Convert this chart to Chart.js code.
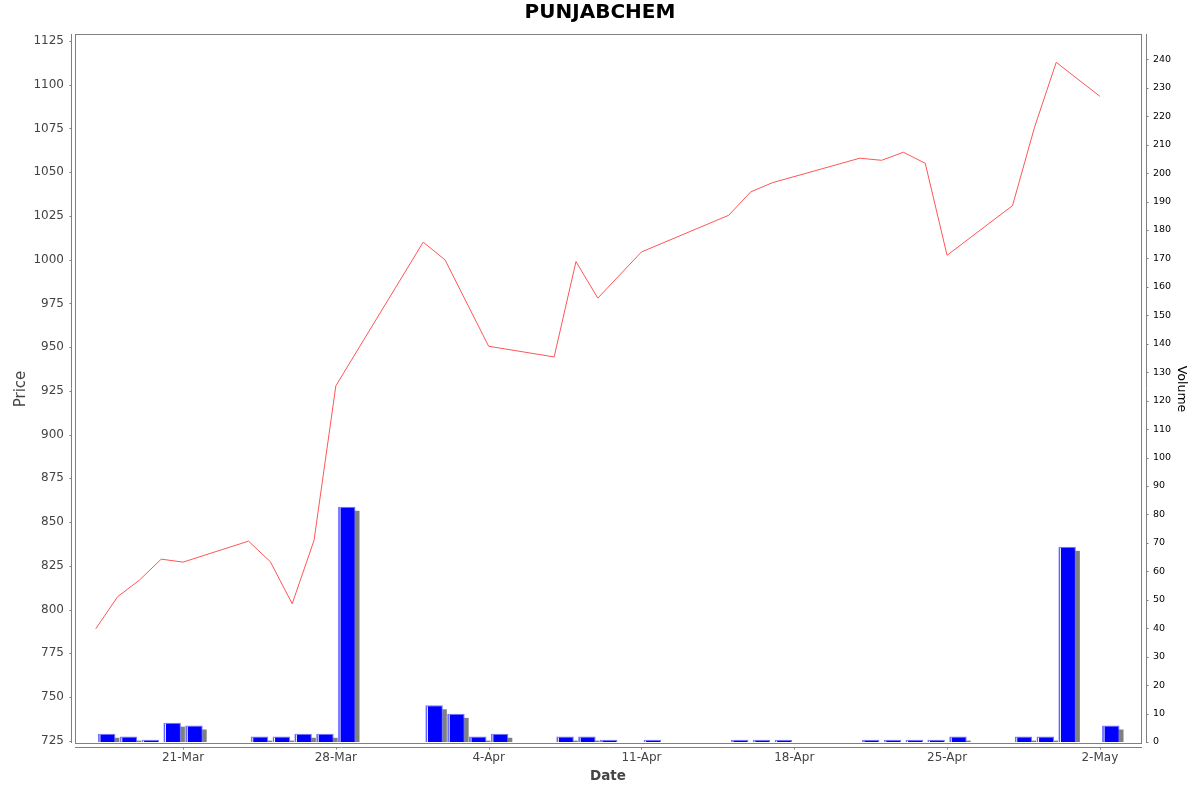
<!DOCTYPE html>
<html>
<head>
<meta charset="utf-8">
<script src="https://cdn.jsdelivr.net/npm/chart.js@4"></script>
<style>
html,body{margin:0;padding:0;background:#fff;}
#wrap{width:1200px;height:792px;}
</style>
</head>
<body>
<div id="wrap"><canvas id="c" width="1200" height="792"></canvas></div>
<script>
const chartTitle = 'PUNJABCHEM';
const dates = [
  '2025-03-17','2025-03-18','2025-03-19','2025-03-20','2025-03-21',
  '2025-03-24','2025-03-25','2025-03-26','2025-03-27','2025-03-28',
  '2025-04-01','2025-04-02','2025-04-03','2025-04-04',
  '2025-04-07','2025-04-08','2025-04-09','2025-04-11',
  '2025-04-15','2025-04-16','2025-04-17',
  '2025-04-21','2025-04-22','2025-04-23','2025-04-24','2025-04-25',
  '2025-04-28','2025-04-29','2025-04-30',
  '2025-05-02'
];
const prices = [
  789, 807.3, 816.8, 828.8, 827.1,
  839.1, 827.3, 803.3, 839.5, 927.9,
  1010, 999.9, 975.2, 950.5,
  944.4, 998.9, 978, 1004.4,
  1025.4, 1038.7, 1044,
  1058, 1056.8, 1061.4, 1055.1, 1002.5,
  1030.9, 1075.4, 1112.8,
  1093.4
];
const volumes = [
  2.9, 1.9, 0.8, 6.8, 5.8,
  1.9, 1.9, 2.9, 2.9, 82.7,
  12.9, 9.9, 1.9, 2.9,
  1.9, 1.9, 0.8, 0.8,
  0.8, 0.8, 0.8,
  0.8, 0.8, 0.8, 0.8, 1.9,
  1.9, 1.9, 68.6,
  5.8
];
const tickDates = ['2025-03-21','2025-03-28','2025-04-04','2025-04-11','2025-04-18','2025-04-25','2025-05-02'];
const priceTicks = [725,750,775,800,825,850,875,900,925,950,975,1000,1025,1050,1075,1100,1125];
const volumeTicks = [0,10,20,30,40,50,60,70,80,90,100,110,120,130,140,150,160,170,180,190,200,210,220,230,240];
const monthNames = ['Jan','Feb','Mar','Apr','May','Jun','Jul','Aug','Sep','Oct','Nov','Dec'];

const baseDay = Date.UTC(2025,2,17);
function dayIndex(s){ const p=s.split('-').map(Number); return (Date.UTC(p[0],p[1]-1,p[2])-baseDay)/86400000; }
function dayLabel(v){ const d=new Date(baseDay+Math.round(v)*86400000); return d.getUTCDate()+'-'+monthNames[d.getUTCMonth()]; }

const linePts = dates.map((d,i)=>({x:dayIndex(d), y:prices[i]}));
const barPts = dates.map((d,i)=>({x:dayIndex(d)+0.5, y:volumes[i]}));
const xTickVals = tickDates.map(dayIndex);

const AX = '#808080';
const decor = {
  id:'decor',
  beforeDatasetsDraw(chart){
    const {ctx, chartArea:a} = chart;
    const meta = chart.getDatasetMeta(1);
    ctx.save();
    ctx.beginPath(); ctx.rect(a.left, a.top, a.right-a.left, a.bottom-a.top); ctx.clip();
    ctx.fillStyle = '#808080';
    meta.data.forEach(el=>{
      const w = el.width, l = el.x - w/2;
      const h = el.base - el.y;
      if (h > 4) ctx.fillRect(l+4, el.y+4, w, h-4);
    });
    ctx.restore();
  },
  afterDatasetDraw(chart, args){
    if (args.index !== 1) return;
    const {ctx} = chart;
    const meta = chart.getDatasetMeta(1);
    ctx.save();
    ctx.fillStyle = '#ffffff';
    meta.data.forEach(el=>{
      const l = el.x - el.width/2;
      const h = el.base - el.y;
      if (h > 2) ctx.fillRect(l+1.5, el.y+1, 1, h-1);
    });
    ctx.restore();
  },
  afterDraw(chart){
    const {ctx, chartArea:a, scales} = chart;
    ctx.save();
    ctx.strokeStyle = AX; ctx.lineWidth = 1;
    ctx.strokeRect(Math.round(a.left)+0.5, Math.round(a.top)+0.5, Math.round(a.right-a.left)-1, Math.round(a.bottom-a.top));
    const lx = Math.round(a.left)-3.5, rx = Math.round(a.right)+4.5, by = Math.round(a.bottom)+4.5;
    ctx.beginPath();
    ctx.moveTo(lx, a.top); ctx.lineTo(lx, a.bottom);
    ctx.moveTo(rx, a.top); ctx.lineTo(rx, a.bottom);
    ctx.moveTo(a.left, by); ctx.lineTo(a.right, by);
    scales.y.ticks.forEach(t=>{ const y=Math.round(scales.y.getPixelForValue(t.value))+0.5; ctx.moveTo(lx-2,y); ctx.lineTo(lx,y); });
    scales.y2.ticks.forEach(t=>{ const y=Math.round(scales.y2.getPixelForValue(t.value))+0.5; ctx.moveTo(rx,y); ctx.lineTo(rx+2,y); });
    scales.x.ticks.forEach(t=>{ const x=Math.round(scales.x.getPixelForValue(t.value))+0.5; ctx.moveTo(x,by); ctx.lineTo(x,by+2); });
    ctx.stroke();
    ctx.fillStyle = '#000';
    ctx.font = 'bold 20px "DejaVu Sans"';
    ctx.textAlign = 'center'; ctx.textBaseline = 'middle';
    ctx.fillText(chartTitle, 600, 13);
    ctx.fillStyle = '#444';
    ctx.font = 'bold 13.5px "DejaVu Sans"';
    ctx.fillText('Date', 608, 776);
    ctx.save();
    ctx.translate(21, 389); ctx.rotate(-Math.PI/2);
    ctx.font = '15px "DejaVu Sans"';
    ctx.fillText('Price', 0, 0);
    ctx.restore();
    ctx.save();
    ctx.translate(1181, 389); ctx.rotate(Math.PI/2);
    ctx.fillStyle = '#000';
    ctx.font = '12.5px "DejaVu Sans"';
    ctx.fillText('Volume', 0, 0);
    ctx.restore();
    ctx.restore();
  }
};

new Chart(document.getElementById('c'), {
  data: {
    datasets: [
      { type:'line', label:'Price', data:linePts, xAxisID:'x', yAxisID:'y',
        borderColor:'#ff5555', borderWidth:1, pointRadius:0, tension:0, fill:false, order:0 },
      { type:'bar', label:'Volume', data:barPts, xAxisID:'x', yAxisID:'y2',
        backgroundColor:'#0000ff', borderColor:'#7777ff', borderWidth:{top:1,left:1,right:1,bottom:0},
        barPercentage:0.8, categoryPercentage:1.0, order:1 }
    ]
  },
  options: {
    responsive:false, animation:false, devicePixelRatio:1,
    layout:{ padding:{ top:34, left:0, right:0, bottom:0 } },
    plugins:{ legend:{display:false}, title:{display:false}, tooltip:{enabled:false} },
    scales:{
      x:{ type:'linear', position:'bottom', min:-0.95, max:47.93, offset:false,
        afterBuildTicks(s){ s.ticks = xTickVals.map(v=>({value:v})); },
        afterFit(s){ s.height = 49; },
        grid:{display:false, drawTicks:false, tickLength:0}, border:{display:false},
        ticks:{ callback:(v)=>dayLabel(v), color:'#444', font:{family:'DejaVu Sans', size:12}, padding:8, maxRotation:0, autoSkip:false }
      },
      y:{ type:'linear', position:'left', min:723.7, max:1129,
        afterBuildTicks(s){ s.ticks = priceTicks.map(v=>({value:v})); },
        afterFit(s){ s.width = 75; },
        grid:{display:false, drawTicks:false, tickLength:0}, border:{display:false},
        ticks:{ callback:(v)=>String(v), color:'#444', font:{family:'DejaVu Sans', size:12}, padding:11 }
      },
      y2:{ type:'linear', position:'right', min:-0.35, max:248.9,
        afterBuildTicks(s){ s.ticks = volumeTicks.map(v=>({value:v})); },
        afterFit(s){ s.width = 58; },
        grid:{display:false, drawTicks:false, tickLength:0}, border:{display:false},
        ticks:{ callback:(v)=>String(v), color:'#000', font:{family:'DejaVu Sans', size:9.5}, padding:11 }
      }
    }
  },
  plugins:[decor]
});
</script>
</body>
</html>
